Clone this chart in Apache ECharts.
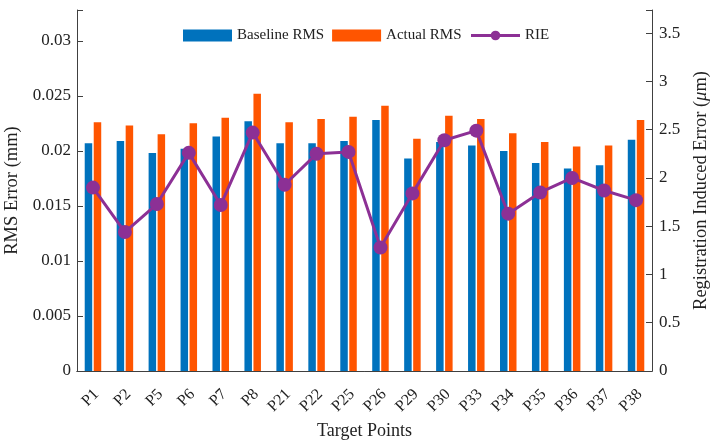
<!DOCTYPE html>
<html>
<head>
<meta charset="utf-8">
<script src="https://cdn.jsdelivr.net/npm/echarts@6/dist/echarts.min.js"></script>
<style>
html,body{margin:0;padding:0;background:#fff;}
#chart{width:717px;height:441px;}
</style>
</head>
<body>
<div id="chart"></div>
<script>
// 目标点
var points = ['P1','P2','P5','P6','P7','P8','P21','P22','P25','P26','P29','P30','P33','P34','P35','P36','P37','P38'];
// 基准 RMS (mm)
var baselineRMS = [0.0207,0.0209,0.0198,0.0202,0.0213,0.0227,0.0207,0.0207,0.0209,0.0228,0.0193,0.0208,0.0205,0.0200,0.0189,0.0184,0.0187,0.0210];
// 实际 RMS (mm)
var actualRMS = [0.0226,0.0223,0.0215,0.0225,0.0230,0.0252,0.0226,0.0229,0.0231,0.0241,0.0211,0.0232,0.0229,0.0216,0.0208,0.0204,0.0205,0.0228];
// 配准误差 RIE (um)
var rie = [1.90,1.44,1.73,2.26,1.72,2.47,1.93,2.25,2.27,1.28,1.84,2.39,2.49,1.63,1.85,2.00,1.87,1.77];

var fontFam = '"Liberation Serif", "Times New Roman", serif';
var axisColor = '#404040';
var textColor = '#222';

var chart = echarts.init(document.getElementById('chart'));
var option = {
    animation: false,
    textStyle: {fontFamily: fontFam},
    grid: {left: 77, right: 65, top: 10, bottom: 70, outerBoundsMode: 'none'},
    legend: {       //图例
        left: 183,
        top: 28,
        padding: 0,
        itemWidth: 49,
        itemHeight: 12,
        itemGap: 8,
        textStyle: {fontFamily: fontFam, fontSize: 15, color: textColor},
        data: [
            {name: 'Baseline RMS', icon: 'rect'},
            {name: 'Actual RMS', icon: 'rect'},
            {name: 'RIE', lineStyle: {width: 3}}
        ]
    },
    xAxis: [
        {
            type: 'category',
            data: points,
            name: 'Target Points',
            nameLocation: 'middle',
            nameGap: 48,
            nameTextStyle: {fontFamily: fontFam, fontSize: 18, color: textColor},
            axisLine: {lineStyle: {color: axisColor}},
            axisTick: {inside: true, alignWithLabel: true, length: 5, lineStyle: {color: axisColor}},
            axisLabel: {
                rotate: 45, align: 'right', verticalAlign: 'top', padding: [0, 3, 0, 0],
                fontFamily: fontFam, fontSize: 16, color: textColor, margin: 13
            }
        },
        {
            type: 'category',
            data: points,
            position: 'top',
            axisLine: {lineStyle: {color: axisColor}},
            axisTick: {inside: true, alignWithLabel: true, length: 5, lineStyle: {color: axisColor}},
            axisLabel: {show: false}
        }
    ],
    yAxis: [
        {
            type: 'value',
            min: 0,
            max: 0.0328,
            interval: 0.005,
            name: 'RMS Error (mm)',
            nameLocation: 'middle',
            nameGap: 49,
            nameTextStyle: {fontFamily: fontFam, fontSize: 18.5, color: textColor},
            axisLine: {show: true, lineStyle: {color: axisColor}},
            axisTick: {show: true, inside: true, length: 6, lineStyle: {color: axisColor}},
            splitLine: {show: false},
            axisLabel: {
                fontFamily: fontFam, fontSize: 17, color: textColor, margin: 6,
                formatter: function (v) { return v > 0.0301 ? '' : String(+v.toFixed(3)); }
            }
        },
        {
            type: 'value',
            min: 0,
            max: 3.74,
            interval: 0.5,
            name: 'Registration Induced Error ({i|μ}m)',
            nameLocation: 'middle',
            nameGap: 37,
            nameTextStyle: {
                fontFamily: fontFam, fontSize: 18.5, color: textColor,
                rich: {i: {fontFamily: fontFam, fontSize: 18.5, fontStyle: 'italic', color: textColor}}
            },
            axisLine: {show: true, lineStyle: {color: axisColor}},
            axisTick: {show: true, inside: true, length: 6, lineStyle: {color: axisColor}},
            splitLine: {show: false},
            axisLabel: {
                fontFamily: fontFam, fontSize: 17, color: textColor, margin: 7,
                formatter: function (v) { return v > 3.51 ? '' : String(+v.toFixed(1)); }
            }
        }
    ],
    series: [
        {
            name: 'Baseline RMS',
            type: 'bar',
            barWidth: 7.5,
            barGap: '20%',
            itemStyle: {color: '#0072BD'},
            data: baselineRMS
        },
        {
            name: 'Actual RMS',
            type: 'bar',
            barWidth: 7.5,
            barGap: '20%',
            itemStyle: {color: '#FF5500'},
            data: actualRMS
        },
        {
            name: 'RIE',
            type: 'line',
            yAxisIndex: 1,
            symbol: 'circle',
            symbolSize: 14,
            lineStyle: {color: '#8C3095', width: 3},
            itemStyle: {color: '#8C3095'},
            data: rie
        }
    ]
};
chart.setOption(option);
</script>
</body>
</html>
